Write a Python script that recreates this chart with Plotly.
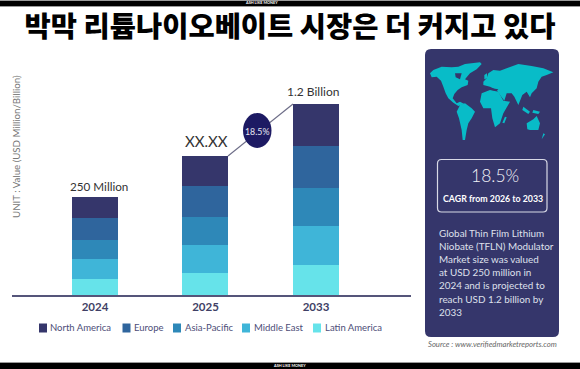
import plotly.graph_objects as go

TITLE = "박막 리튬나이오베이트 시장은 더 커지고 있다"
years = ["2024", "2025", "2033"]
# Heights (arbitrary units: the original has no value axis and is not to scale)
latin_america = [16, 22, 30]
middle_east = [20, 28, 39]
asia_pacific = [19, 28, 38]
europe = [22, 31, 42]
north_america = [21, 30, 42]
bar_labels = ["250 Million", "XX.XX", "1.2 Billion"]
legend_names = ["North America", "Europe", "Asia-Pacific", "Middle East", "Latin America"]
COLORS = {"North America": "#35366b", "Europe": "#2f659d", "Asia-Pacific": "#2e88b8",
          "Middle East": "#3fb5d8", "Latin America": "#66e3ea"}
series = [("Latin America", latin_america), ("Middle East", middle_east), ("Asia-Pacific", asia_pacific),
          ("Europe", europe), ("North America", north_america)]
para = ["Global Thin Film Lithium", "Niobate (TFLN) Modulator", "Market size was valued",
        "at USD 250 million in", "2024 and is projected to", "reach USD 1.2 billion by", "2033"]

W, H = 580, 369
FONT = "Lato, sans-serif"
def px(x): return x / W
def py(y): return 1 - y / H

fig = go.Figure()
for name, vals in series:
    fig.add_trace(go.Bar(x=years, y=vals, name=name, marker=dict(color=COLORS[name], line_width=0),
                         width=0.416, showlegend=False))

shapes, ann = [], []
def rect(x0, y0, x1, y1, color):
    shapes.append(dict(type="rect", xref="paper", yref="paper", x0=px(x0), x1=px(x1), y0=py(y0), y1=py(y1),
                       fillcolor=color, line_width=0, layer="below"))
def text(x, y, s, size, color, anchor="center", **kw):
    font = dict(family=kw.pop("family", FONT), size=size, color=color)
    if "weight" in kw: font["weight"] = kw.pop("weight")
    if "style" in kw: font["style"] = kw.pop("style")
    ann.append(dict(xref="paper", yref="paper", x=px(x), y=py(y), text=s, showarrow=False, xanchor=anchor,
                    yanchor="middle", font=font, borderpad=0, **kw))
def rpath(x0, y0, x1, y1, r):
    c = [(x0 + r, y0), (x1 - r, y0), (x1, y0 + r), (x1, y1 - r), (x1 - r, y1), (x0 + r, y1), (x0, y1 - r), (x0, y0 + r)]
    p = [(px(a), py(b)) for a, b in c]
    return (f"M{p[0][0]},{p[0][1]} L{p[1][0]},{p[1][1]} Q{px(x1)},{py(y0)} {p[2][0]},{p[2][1]} "
            f"L{p[3][0]},{p[3][1]} Q{px(x1)},{py(y1)} {p[4][0]},{p[4][1]} L{p[5][0]},{p[5][1]} "
            f"Q{px(x0)},{py(y1)} {p[6][0]},{p[6][1]} L{p[7][0]},{p[7][1]} Q{px(x0)},{py(y0)} {p[0][0]},{p[0][1]} Z")

# top and bottom bands
rect(0, 0, W, 7, "#9a9a9a"); rect(0, 1, W, 6, "#000000")
rect(0, 362, W, H, "#9a9a9a"); rect(0, 363, W, H, "#000000")
text(261, 2.7, "ASH LIKE MONEY", 3.8, "#ffffff", weight=700)
text(289.5, 365.5, "ASH LIKE MONEY", 3.8, "#ffffff", weight=700)

# panel
shapes.append(dict(type="path", xref="paper", yref="paper", path=rpath(425, 49, 559, 337, 6),
                   fillcolor="#35366b", line_width=0, layer="below"))
shapes.append(dict(type="path", xref="paper", yref="paper", path=rpath(437.5, 159.5, 547, 212, 4),
                   fillcolor="rgba(0,0,0,0)", line=dict(color="#d8d9e6", width=1.2)))

# world map outline (decorative), in crop coordinates of the panel
land = [
 [(45,100),(55,90),(80,80),(110,82),(130,80),(150,72),(195,67),(200,72),(185,88),(165,100),(158,108),(150,118),(160,122),(158,135),(140,142),(128,150),(118,162),(113,175),(125,190),(135,185),(148,192),(130,198),(115,188),(100,175),(92,160),(85,140),(78,122),(65,110),(50,112)],
 [(135,195),(150,190),(170,205),(180,215),(170,235),(160,250),(155,270),(150,300),(143,300),(140,270),(132,235),(125,215)],
 [(220,100),(235,90),(255,92),(275,85),(310,72),(350,78),(385,85),(415,97),(395,105),(380,110),(370,125),(365,145),(350,160),(345,172),(335,155),(322,165),(310,195),(298,170),(290,160),(275,160),(268,182),(255,165),(245,150),(225,140),(205,135),(205,125),(215,115)],
 [(200,160),(225,150),(250,155),(265,182),(285,185),(265,220),(255,250),(240,262),(232,235),(228,205),(205,205),(195,185)],
 [(270,230),(275,232),(268,250),(262,248)],
 [(335,250),(355,238),(365,228),(375,250),(370,270),(345,270),(337,268)],
 [(325,200),(345,215),(340,222),(322,210)],
 [(355,210),(375,215),(370,222),(352,218)],
 [(385,280),(390,283),(380,298)],
 [(208,105),(216,100),(216,115),(208,118)],
]
holes = [[(120,100),(140,100),(135,118),(122,112)], [(210,142),(250,148),(245,153),(215,147)]]
def poly(points, color):
    pts = [(px(415 + a / 3), py(40 + b / 3)) for a, b in points]
    d = "M" + " L".join(f"{a},{b}" for a, b in pts) + " Z"
    shapes.append(dict(type="path", xref="paper", yref="paper", path=d, fillcolor=color, line_width=0))
for p in land: poly(p, "#08bcc8")
for p in holes: poly(p, "#35366b")

text(495, 176, "18.5%", 17.5, "#f2f2f8", weight=300)
text(492.5, 198.5, "CAGR from 2026 to 2033", 8.8, "#ffffff", weight=700)
for i, line in enumerate(para):
    text(438, 233 + i * 13.1, line, 9.9, "#dfe0ec", anchor="left")
text(492.5, 344, "Source : www.verifiedmarketreports.com", 7.7, "#666666", style="italic", weight=400)

# CAGR connector and bubble
shapes.append(dict(type="line", xref="paper", yref="paper", x0=px(228), y0=py(156), x1=px(293), y1=py(104),
                   line=dict(color="#6d6d88", width=1.2)))
shapes.append(dict(type="circle", xref="paper", yref="paper", x0=px(243), x1=px(271.5), y0=py(113), y1=py(148),
                   fillcolor="#1d1a63", line_width=0))
text(257, 131, "18.5%", 8.8, "#e6e6f2")

# value labels over the bars
text(98.5, 186, bar_labels[0], 11.7, "#333333")
text(206.5, 141, bar_labels[1], 15, "#333333", weight=400)
text(313, 91, bar_labels[2], 12, "#333333")

# axis title
text(16, 147, "UNIT : Value (USD Million/Billion)", 9.7, "#777777", textangle=-90)

# legend
sq_x = [39, 122.5, 173, 242, 313]
tx_x = [49, 133, 184, 253, 324]
for name, a, b in zip(legend_names, sq_x, tx_x):
    rect(a, 323.5, a + 8, 332.5, COLORS[name])
    text(b, 327.5, name, 9.5, "#4d4d78", anchor="left")

fig.update_layout(
    width=W, height=H, autosize=False, margin=dict(l=0, r=0, t=0, b=0),
    paper_bgcolor="#ffffff", plot_bgcolor="#ffffff", barmode="stack", showlegend=False,
    title=dict(text=TITLE, x=290 / W, y=py(27), xanchor="center", yanchor="middle",
               font=dict(family="Noto Sans CJK KR", size=28.5, color="#000000", weight=900)),
    xaxis=dict(domain=[px(12), px(411)], range=[-0.751, 2.86], type="category", showgrid=False, zeroline=False,
               showline=True, linecolor="#55557a", linewidth=1.5, ticks="", ticklen=0,
               tickfont=dict(family=FONT, size=11.5, color="#3f3f66", weight=700)),
    yaxis=dict(domain=[py(295), py(60)], range=[0, 235], visible=False),
    shapes=shapes, annotations=ann,
)
fig.write_html("out.html", config={"displayModeBar": False},
               post_script="document.body.style.margin='0';document.documentElement.style.overflow='hidden';")
